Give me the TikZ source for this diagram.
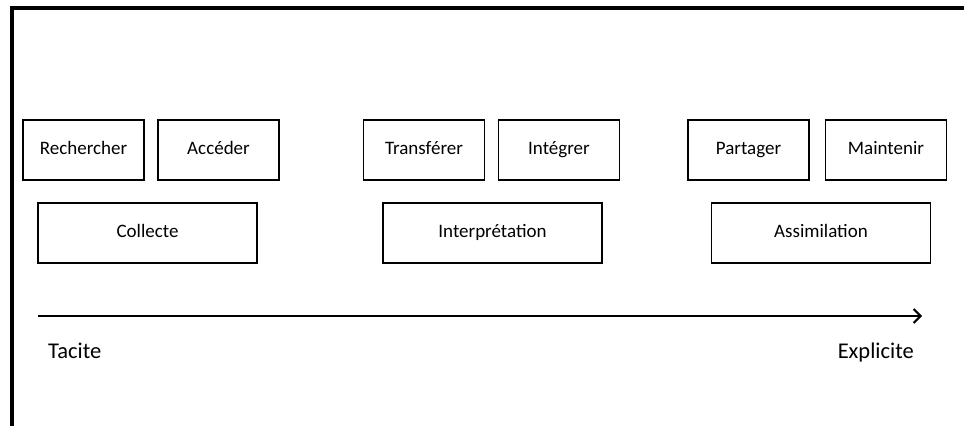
\documentclass[tikz,border=0pt]{standalone}
\usepackage{fontspec}
\setmainfont{Carlito}
\usetikzlibrary{arrows.meta}
\begin{document}
\begin{tikzpicture}[x=1pt,y=-1pt,
  box/.style={draw=black,line width=1.6pt,minimum height=60pt,inner sep=0pt,text height=13pt,text depth=4pt,font=\fontsize{19}{22}\selectfont},
  small/.style={box,minimum width=121pt},
  big/.style={box,minimum width=219pt},
  axislabel/.style={font=\fontsize{22.5}{26}\selectfont,inner sep=0pt,text height=16pt,text depth=5pt}]
\useasboundingbox (0,0) rectangle (964,426);
\draw[line width=4pt] (11.5,426) -- (11.5,7.5) -- (964,7.5);
\node[small] (rech) at (83.5,150) {Rechercher};
\node[small] (acc) at (218.5,150) {Accéder};
\node[big] (coll) at (147.5,233) {Collecte};
\node[small] (trans) at (424,150) {Transférer};
\node[small] (integ) at (559,150) {Intégrer};
\node[big] (interp) at (492.5,233) {Interprétation};
\node[small] (part) at (748.5,150) {Partager};
\node[small] (maint) at (886,150) {Maintenir};
\node[big] (assim) at (821,233) {Assimilation};
\coordinate (a0) at (38,316);
\coordinate (a1) at (922,316);
\draw[line width=2pt,-{Straight Barb[length=7pt,width=14pt]}] (a0) -- (a1);
\node[axislabel,anchor=west] (tac) at (48,353) {Tacite};
\node[axislabel,anchor=east] (expl) at (914,353) {Explicite};
\end{tikzpicture}
\end{document}
